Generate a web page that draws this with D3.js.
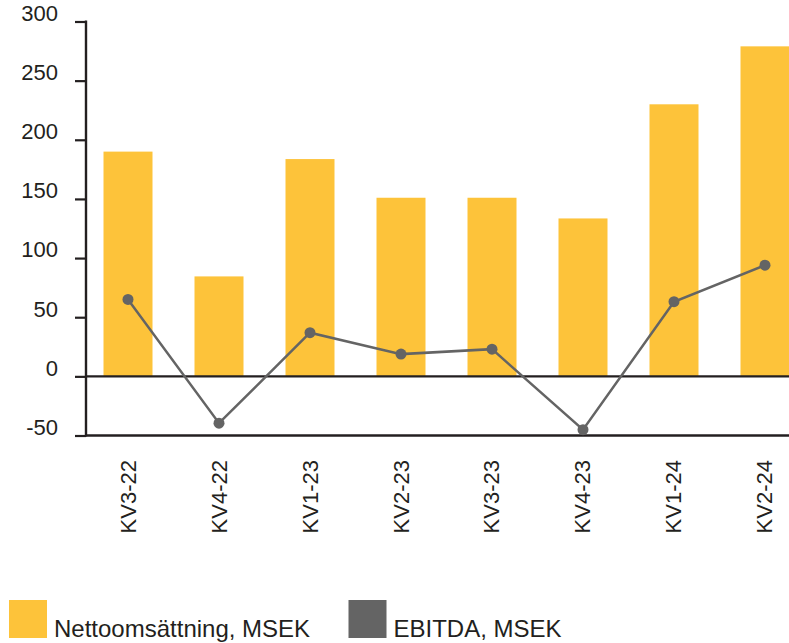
<!DOCTYPE html>
<html>
<head>
<meta charset="utf-8">
<script src="https://cdn.jsdelivr.net/npm/d3@7"></script>
<style>
  html, body { margin: 0; padding: 0; background: #fff; }
  svg { display: block; }
  text { font-family: "Liberation Sans", Arial, Helvetica, sans-serif; fill: #231f20; }
</style>
</head>
<body>
<svg id="chart" width="789" height="643"></svg>
<script>
const categories = ["KV3-22", "KV4-22", "KV1-23", "KV2-23", "KV3-23", "KV4-23", "KV1-24", "KV2-24"];
const nettoomsattning = [190, 84.5, 183.7, 151, 151, 133.5, 230, 279];
const ebitda = [65, -39.6, 36.9, 18.8, 23, -45.1, 63.1, 94];
const yTicks = [-50, 0, 50, 100, 150, 200, 250, 300];
const seriesNames = ["Nettoomsättning, MSEK", "EBITDA, MSEK"];
const seriesColors = ["#fdc33a", "#646464"];

const svg = d3.select("#chart");
const axisColor = "#231f20";

const x = d3.scaleBand()
  .domain(categories)
  .range([85.3, 807.7])
  .paddingInner(0.4615)
  .paddingOuter(0.2);

const y = d3.scaleLinear()
  .domain([-50, 300])
  .range([435.5, 21.5]);

const axisX = 86;

// Bars
svg.append("g").selectAll("rect")
  .data(categories)
  .join("rect")
  .attr("x", d => x(d))
  .attr("width", x.bandwidth())
  .attr("y", (d, i) => y(Math.max(0, nettoomsattning[i])))
  .attr("height", (d, i) => Math.abs(y(nettoomsattning[i]) - y(0)))
  .attr("fill", seriesColors[0]);

// Y axis
const yAxis = d3.axisLeft(y).tickValues(yTicks).tickSize(11).tickPadding(17).tickFormat(d => String(d));
const gy = svg.append("g").attr("transform", `translate(${axisX},0)`).call(yAxis);
gy.select(".domain").remove();
gy.selectAll(".tick line").attr("stroke", axisColor).attr("stroke-width", 2.2);
gy.selectAll(".tick text")
  .attr("font-size", 22)
  .attr("font-family", "Liberation Sans, Arial, sans-serif")
  .attr("fill", axisColor)
  .attr("dy", "-0.05em");

svg.append("line")
  .attr("x1", axisX).attr("x2", axisX)
  .attr("y1", y(300) - 1).attr("y2", y(-50) + 1)
  .attr("stroke", axisColor).attr("stroke-width", 2.4);

// Bottom axis line
svg.append("line")
  .attr("x1", axisX - 1).attr("x2", 789)
  .attr("y1", y(-50)).attr("y2", y(-50))
  .attr("stroke", axisColor).attr("stroke-width", 2.4);

// Zero line
svg.append("line")
  .attr("x1", axisX).attr("x2", 789)
  .attr("y1", y(0)).attr("y2", y(0))
  .attr("stroke", axisColor).attr("stroke-width", 2.2);

// X labels
svg.append("g").selectAll("text")
  .data(categories)
  .join("text")
  .attr("transform", d => `translate(${x(d) + x.bandwidth() / 2},460) rotate(-90)`)
  .attr("text-anchor", "end")
  .attr("dominant-baseline", "central")
  .attr("font-size", 22)
  .text(d => d);

// EBITDA line
const line = d3.line()
  .x((d, i) => x(categories[i]) + x.bandwidth() / 2)
  .y(d => y(d));

svg.append("path")
  .datum(ebitda)
  .attr("d", line)
  .attr("fill", "none")
  .attr("stroke", seriesColors[1])
  .attr("stroke-width", 2.5);

svg.append("g").selectAll("circle")
  .data(ebitda)
  .join("circle")
  .attr("cx", (d, i) => x(categories[i]) + x.bandwidth() / 2)
  .attr("cy", d => y(d))
  .attr("r", 5.5)
  .attr("fill", seriesColors[1]);

// Legend
const legendX = [9, 348.5];
const legend = svg.append("g");
seriesNames.forEach((name, i) => {
  legend.append("rect")
    .attr("x", legendX[i]).attr("y", 600)
    .attr("width", 38).attr("height", 38)
    .attr("fill", seriesColors[i]);
  legend.append("text")
    .attr("x", legendX[i] + 45).attr("y", 637)
    .attr("font-size", 24)
    .text(name);
});
</script>
</body>
</html>
